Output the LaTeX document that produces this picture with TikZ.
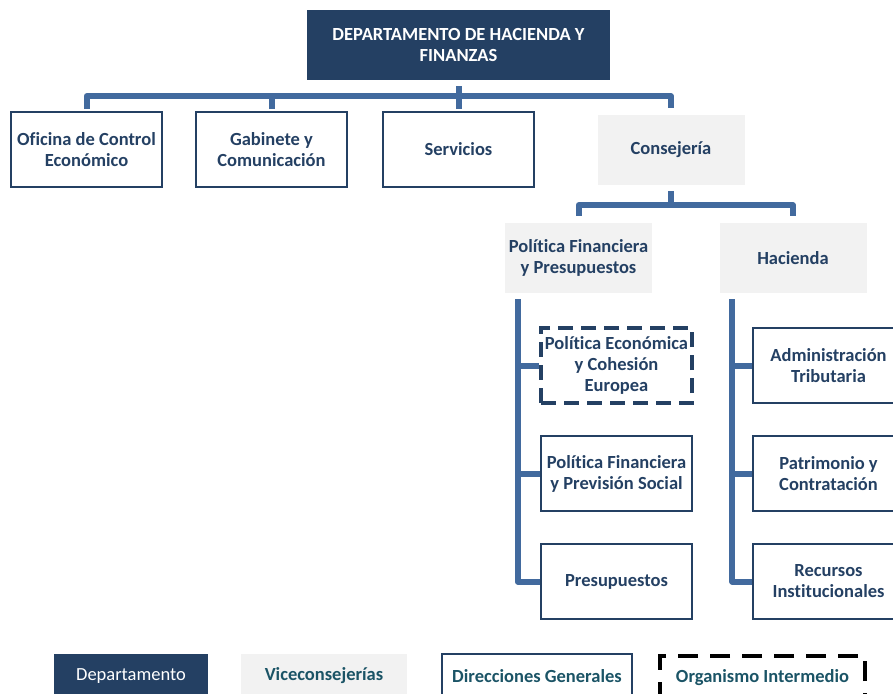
\documentclass[tikz,border=0pt]{standalone}
\usepackage{fontspec}
\setmainfont{Carlito}[Ligatures=NoCommon]
\usepackage{tikz}
\usetikzlibrary{positioning,calc}

\definecolor{navy}{RGB}{36,64,99}
\definecolor{vgray}{RGB}{242,242,242}
\definecolor{linkblue}{RGB}{66,106,158}
\definecolor{teal}{RGB}{27,84,102}

\begin{document}
\begin{tikzpicture}[x=1pt,y=-1pt,
		box/.style={align=center,inner sep=2pt,font=\fontsize{18.5}{21}\selectfont\bfseries,text=navy},
		dept/.style={box,fill=navy,text=white,minimum width=303,minimum height=70},
		vice/.style={box,fill=vgray,minimum width=147,minimum height=70},
		dir/.style={box,draw=navy,line width=2pt,minimum width=151,minimum height=75},
		org/.style={dir,dashed,dash pattern=on 15pt off 8pt,line width=3.5pt},
		link/.style={draw=linkblue,line width=6pt,line join=round}]
		\useasboundingbox (0,0) rectangle (893,693);
		% organigrama
		\node(dep) at (458.5,45) [dept] {DEPARTAMENTO DE HACIENDA Y\\FINANZAS};
		\node(ofi) at (86.5,149.5) [dir] {Oficina de Control\\Económico};
		\node(gab) at (271.5,149.5) [dir] {Gabinete y\\Comunicación};
		\node(ser) at (458.5,149.5) [dir] {Servicios};
		\node(con) at (671,150) [vice] {Consejería};
		\node(pfp) at (578.5,258) [vice] {Política Financiera\\y Presupuestos};
		\node(hac) at (793,258) [vice] {Hacienda};
		\node(pec) at (616.5,365.5) [org] {Política Económica\\y Cohesión\\Europea};
		\node(pps) at (616.5,473.5) [dir] {Política Financiera\\y Previsión Social};
		\node(pre) at (616.5,581.5) [dir] {Presupuestos};
		\node(adm) at (828.5,365.5) [dir] {Administración\\Tributaria};
		\node(pat) at (828.5,473.5) [dir] {Patrimonio y\\Contratación};
		\node(rec) at (828.5,581.5) [dir] {Recursos\\Institucionales};
		% conectores
		\coordinate(b1) at ($(dep.south)+(0,16)$);
		\draw[link] ([yshift=-6pt]dep.south) -- (b1);
		\draw[link,shorten <=2pt,shorten >=7pt] (ofi.north) |- (b1) -| (con.north);
		\draw[link,shorten <=2pt] (gab.north) -- (gab.north |- b1);
		\draw[link,shorten <=2pt] (ser.north) -- (ser.north |- b1);
		\coordinate(b2) at ($(con.south)+(0,20)$);
		\draw[link] ([yshift=-6pt]con.south) -- (b2);
		\draw[link,shorten <=7pt,shorten >=7pt] (pfp.north) |- (b2) -| (hac.north);
		\coordinate(l1) at ([xshift=13pt,yshift=-6pt]pfp.south west);
		\coordinate(l2) at ([xshift=13pt,yshift=-6pt]hac.south west);
		\draw[link] (l1) |- (pre.west);
		\draw[link] (l1 |- pec.west) -- (pec.west);
		\draw[link] (l1 |- pps.west) -- (pps.west);
		\draw[link] (l2) |- (rec.west);
		\draw[link] (l2 |- adm.west) -- (adm.west);
		\draw[link] (l2 |- pat.west) -- (pat.west);
		% leyenda
		\node(ld) at (131,676) [box,fill=navy,text=white,font=\fontsize{18.5}{21}\selectfont,minimum width=154,minimum height=44] {Departamento};
		\node(lv) at (324,676) [box,fill=vgray,text=teal,minimum width=166,minimum height=44] {Viceconsejerías};
		\node(lg) at (537,676) [box,draw=navy,line width=2pt,text=teal,minimum width=190,minimum height=44] {Direcciones Generales};
		\node(lo) at (762.5,678) [box,draw=black,line width=4pt,dash pattern=on 20pt off 12pt,text=teal,minimum width=205,minimum height=44] {Organismo Intermedio};
\end{tikzpicture}
\end{document}
